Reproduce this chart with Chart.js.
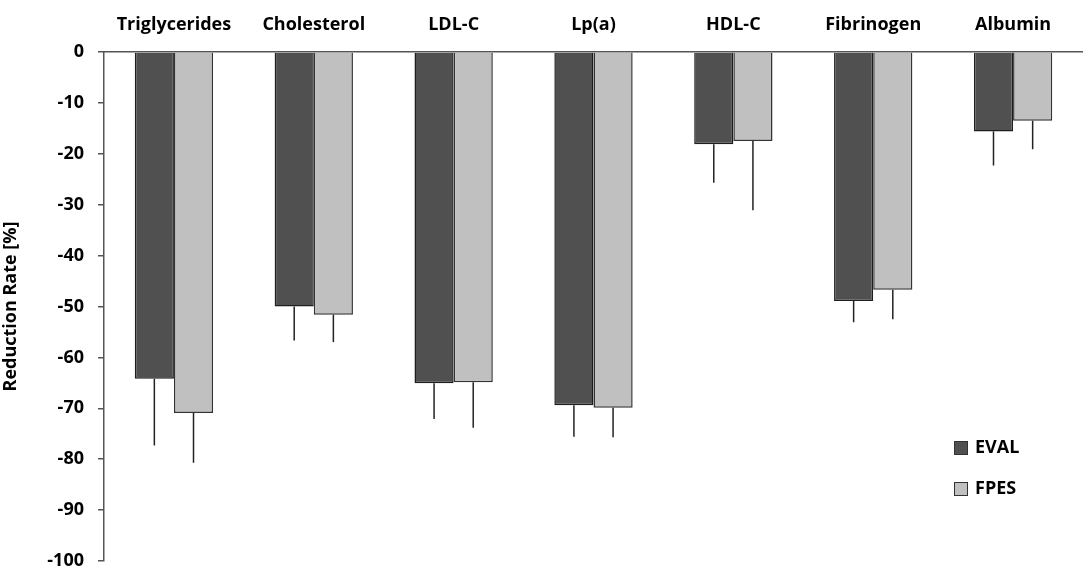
<!DOCTYPE html>
<html>
<head>
<meta charset="utf-8">
<script src="https://cdn.jsdelivr.net/npm/chart.js@4.4.1/dist/chart.umd.min.js"></script>
<style>
    html, body { margin: 0; padding: 0; background: #fff; }
    #wrap { width: 1083px; height: 571px; }
</style>
</head>
<body>
<div id="wrap"><canvas id="myChart"></canvas></div>
<script>
// data
var categories = ['Triglycerides', 'Cholesterol', 'LDL-C', 'Lp(a)', 'HDL-C', 'Fibrinogen', 'Albumin'];
var evalValues = [-64.2, -50.0, -65.1, -69.4, -18.1, -48.9, -15.6];
var evalErrors = [13.1, 6.7, 7.0, 6.2, 7.6, 4.2, 6.7];
var fpesValues = [-70.9, -51.6, -64.9, -69.9, -17.5, -46.7, -13.5];
var fpesErrors = [9.8, 5.4, 8.9, 5.8, 13.6, 5.8, 5.6];
var yTicks = [0, -10, -20, -30, -40, -50, -60, -70, -80, -90, -100];

var fontName = '"Open Sans", sans-serif';
var errorList = [evalErrors, fpesErrors];

// one-sided error bars, below the bar end
var errorBars = {
    id: 'errorBars',
    afterDatasetsDraw: function (chart) {
        var ctx = chart.ctx;
        var y = chart.scales.y;
        ctx.save();
        ctx.strokeStyle = '#222';
        ctx.lineWidth = 1.5;
        chart.data.datasets.forEach(function (ds, d) {
            var meta = chart.getDatasetMeta(d);
            meta.data.forEach(function (bar, i) {
                var v = ds.data[i];
                ctx.beginPath();
                ctx.moveTo(bar.x, y.getPixelForValue(v));
                ctx.lineTo(bar.x, y.getPixelForValue(v - errorList[d][i]));
                ctx.stroke();
            });
        });
        ctx.restore();
    }
};

// legend drawn inside the plot, bottom right
var innerLegend = {
    id: 'innerLegend',
    afterDraw: function (chart) {
        var ctx = chart.ctx;
        ctx.save();
        ctx.font = 'bold 18px ' + fontName;
        ctx.textBaseline = 'middle';
        chart.data.datasets.forEach(function (ds, d) {
            var top = 441 + d * 41;
            ctx.fillStyle = ds.backgroundColor;
            ctx.fillRect(954, top, 14, 14);
            ctx.strokeStyle = '#333';
            ctx.lineWidth = 1;
            ctx.strokeRect(954.5, top + 0.5, 13, 13);
            ctx.fillStyle = '#000';
            ctx.fillText(ds.label, 975, top + 7);
        });
        ctx.restore();
    }
};

var ctx = document.getElementById('myChart').getContext('2d');
var myChart = new Chart(ctx, {
    type: 'bar',
    data: {
        labels: categories,
        datasets: [{
            label: 'EVAL',
            data: evalValues,
            backgroundColor: '#505050',
            borderColor: '#1e1e1e',
            borderWidth: 1.5
        }, {
            label: 'FPES',
            data: fpesValues,
            backgroundColor: '#c0c0c0',
            borderColor: '#333',
            borderWidth: 1.5
        }]
    },
    options: {
        responsive: true,
        maintainAspectRatio: false,
        animation: false,
        layout: { padding: { top: 0, right: 0, bottom: 10, left: 0 } },
        datasets: { bar: { categoryPercentage: 0.56, barPercentage: 1.0 } },
        plugins: {
            legend: { display: false },
            tooltip: { enabled: false }
        },
        scales: {
            x: {
                position: 'top',
                grid: { display: false },
                border: { display: true, color: '#555', width: 1.5 },
                ticks: {
                    color: '#000',
                    padding: 8,
                    font: { family: fontName, size: 18, weight: 'bold' }
                },
                afterFit: function (scale) { scale.height = 52; }
            },
            y: {
                min: -100,
                max: 0,
                afterBuildTicks: function (scale) {
                    scale.ticks = yTicks.map(function (v) { return { value: v }; });
                },
                grid: { drawOnChartArea: false, tickLength: 6, color: '#555', lineWidth: 1.5 },
                border: { display: true, color: '#555', width: 1.5 },
                ticks: {
                    color: '#000',
                    padding: 14,
                    font: { family: fontName, size: 18, weight: 'bold' }
                },
                title: {
                    display: true,
                    text: 'Reduction Rate [%]',
                    color: '#000',
                    padding: { top: 0, bottom: 0 },
                    font: { family: fontName, size: 18, weight: 'bold' }
                },
                afterFit: function (scale) {
                    scale.width = 104;
                    scale.paddingTop = 0;
                    scale.paddingBottom = 0;
                }
            }
        }
    },
    plugins: [errorBars, innerLegend]
});
</script>
</body>
</html>
